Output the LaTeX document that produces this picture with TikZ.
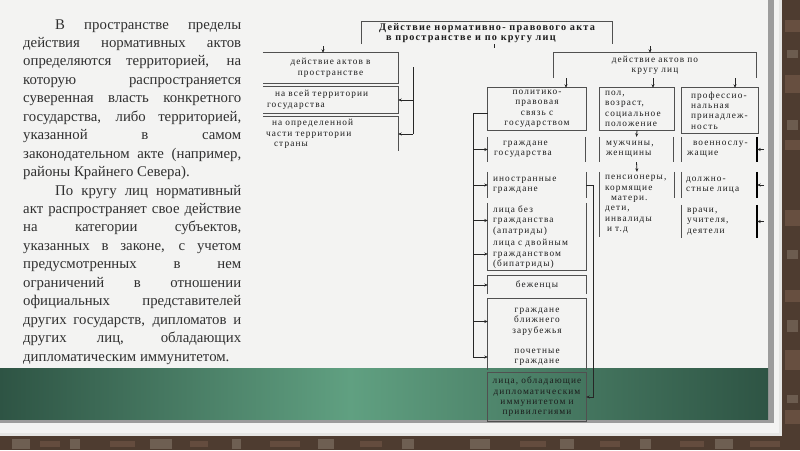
\documentclass[tikz,border=0pt]{standalone}
\usepackage{fontspec}
\setmainfont{Liberation Serif}
\newfontfamily\dfont[LetterSpace=12]{Liberation Serif}
\usetikzlibrary{arrows.meta,calc}
\definecolor{paper}{HTML}{F3F3F2}
\definecolor{paperedge}{HTML}{E6E6E4}
\definecolor{brick}{HTML}{4E3C30}
\definecolor{brickB}{HTML}{8A7C6E}
\definecolor{brickC}{HTML}{6E5444}
\definecolor{gdark}{HTML}{2E5444}
\definecolor{glight}{HTML}{60A081}
\definecolor{stripe}{HTML}{9C9C9C}
\definecolor{ln}{HTML}{505050}
\definecolor{txt}{HTML}{1C1C1C}
\definecolor{ptxt}{HTML}{303030}
\begin{document}
\begin{tikzpicture}[x=1pt,y=-1pt,
  bx/.style={inner ysep=0pt,inner xsep=3pt,text=txt,font=\dfont\fontsize{9.3}{10.4}\selectfont},
  ttl/.style={inner ysep=0pt,inner xsep=0pt,text=txt,font=\dfont\bfseries\fontsize{10.2}{10.6}\selectfont},
  bline/.style={draw=ln,line width=0.7pt},
  heavy/.style={draw=black,line width=1.5pt},
  conn/.style={draw=black!85,line width=0.9pt},
  arr/.style={draw=black!85,line width=0.8pt,-{Stealth[length=3.5pt,width=3pt]}}]
\useasboundingbox (0,0) rectangle (800,450);
% background
\fill[brick] (0,0) rectangle (800,450);
\foreach \x/\w in {12/18,70/10,150/22,232/9,318/16,402/12,470/20,560/14,640/11,715/18}{
  \fill[brickB,opacity=0.55] (\x,439) rectangle (\x+\w,449);
}
\foreach \x/\w in {40/20,110/25,190/18,270/30,360/22,520/26,600/20,680/24,750/30}{
  \fill[brickC,opacity=0.7] (\x,441) rectangle (\x+\w,447);
}
\foreach \y/\h in {20/12,75/18,140/10,210/16,290/12,350/20,410/14}{
  \fill[brickC,opacity=0.8] (785,\y) rectangle (800,\y+\h);
}
\foreach \y/\h in {50/8,120/10,250/9,320/12,395/8}{
  \fill[brickB,opacity=0.5] (787,\y) rectangle (798,\y+\h);
}
\fill[paperedge] (0,0) rectangle (782,436);
\fill[paper] (0,0) rectangle (779,433);
\fill[stripe] (768,0) rectangle (774,423);
\fill[stripe] (0,419) rectangle (774,423);
\shade[left color=gdark,right color=glight] (0,368) rectangle (350,419);
\shade[left color=glight,right color=gdark] (350,368) rectangle (768,419);

% left paragraph text
\node[anchor=base west,inner sep=0,text=ptxt] (para) at (23,29) {\parbox[t]{218pt}{\fontsize{14.8}{18.45}\selectfont\parindent=0pt\parskip=0pt
\makebox[\linewidth][s]{\hspace*{32pt}В пространстве пределы}\par
\makebox[\linewidth][s]{действия нормативных актов}\par
\makebox[\linewidth][s]{определяются территорией, на}\par
\makebox[\linewidth][s]{которую распространяется}\par
\makebox[\linewidth][s]{суверенная власть конкретного}\par
\makebox[\linewidth][s]{государства, либо территорией,}\par
\makebox[\linewidth][s]{указанной в самом}\par
\makebox[\linewidth][s]{законодательном акте (например,}\par
районы Крайнего Севера).\par
\makebox[\linewidth][s]{\hspace*{32pt}По кругу лиц нормативный}\par
\makebox[\linewidth][s]{акт распространяет свое действие}\par
\makebox[\linewidth][s]{на категории субъектов,}\par
\makebox[\linewidth][s]{указанных в законе, с учетом}\par
\makebox[\linewidth][s]{предусмотренных в нем}\par
\makebox[\linewidth][s]{ограничений в отношении}\par
\makebox[\linewidth][s]{официальных представителей}\par
\makebox[\linewidth][s]{других государств, дипломатов и}\par
\makebox[\linewidth][s]{других лиц, обладающих}\par
дипломатическим иммунитетом.\par}};

% title
\node[ttl,minimum width=250,minimum height=22,align=left] (title) at (487,33)
  {Действие нормативно- правового акта\\\hspace*{7pt}в пространстве и по кругу лиц};
\draw[bline] (title.south west) -- (title.north west) -- (title.north east) -- (title.south east);

% space branch
\node[bx,minimum width=135,minimum height=30,text width=129,align=center] (spaceBox) at (330.5,68)
  {действие актов в\\пространстве};
\draw[bline] (spaceBox.north west) -- (spaceBox.north east) -- (spaceBox.south east) -- (spaceBox.south west);
\node[bx,minimum height=26,inner xsep=4pt,text width=127,align=left] (wholeBox) at (330.5,100)
  {\hspace*{8pt}на всей территории\\государства};
\draw[bline] (wholeBox.north west) -- (wholeBox.north east) -- (wholeBox.south east) -- (wholeBox.south west);
\node[bx,minimum height=34,inner xsep=3pt,text width=129,align=left] (partBox) at (330.5,134)
  {\hspace*{6pt}на определенной\\части территории\\\hspace*{8pt}страны};
\draw[bline] (partBox.north west) -- (partBox.north east) -- (partBox.south east);

% circle of persons branch
\node[bx,minimum width=202,minimum height=25,text width=196,align=center] (circleBox) at (655,65.5)
  {действие актов по\\кругу лиц};
\draw[bline] (circleBox.south west) -- (circleBox.north west) -- (circleBox.north east) -- (circleBox.south east);

\node[bx,minimum height=42,text width=92,align=center] (boxA) at (537,109)
  {политико-\\правовая\\связь с\\государством};
\draw[bline] (boxA.north west) rectangle (boxA.south east);
\node[bx,minimum height=42,inner xsep=5pt,text width=64,align=left] (boxB) at (637,109)
  {пол,\\возраст,\\социальное\\положение};
\draw[bline] (boxB.north west) rectangle (boxB.south east);
\node[bx,minimum height=45,inner xsep=9pt,text width=58,align=left] (boxC) at (720,110.5)
  {профессио-\\нальная\\принадлеж-\\ность};
\draw[bline] (boxC.north west) rectangle (boxC.south east);

% row items, column A
\node[bx,minimum height=25,inner xsep=6pt,text width=85,align=left] (citizens) at (536.5,149.5)
  {\hspace*{9pt}граждане\\государства};
\node[bx,minimum height=26,inner xsep=5pt,text width=88,align=left] (foreign) at (537,185)
  {иностранные\\граждане};
\node[bx,minimum height=35,inner xsep=5pt,text width=88,align=left] (apatr) at (537,220.5)
  {лица без\\гражданства\\(апатриды)};
\node[bx,minimum height=32,inner xsep=5pt,text width=88,align=left] (bipatr) at (537,254)
  {лица с двойным\\гражданством\\(бипатриды)};
\node[bx,minimum height=18,text width=92,align=center] (refugees) at (537,285)
  {беженцы};
\node[bx,minimum height=45,text width=92,align=center] (nearAbroad) at (537,321.5)
  {граждане\\ближнего\\зарубежья};
\node[bx,minimum height=26,text width=92,align=center] (honorary) at (537,357)
  {почетные\\граждане};
\node[bx,minimum height=48,text width=92,align=center] (diplomats) at (537,397)
  {лица, обладающие\\дипломатическим\\иммунитетом и\\привилегиями};

\foreach \n in {citizens,foreign,apatr,honorary}{
  \draw[bline] (\n.north west) -- (\n.south west);
  \draw[bline] (\n.north east) -- (\n.south east);
}
\draw[bline] (bipatr.north west) -- (bipatr.south west) -- (bipatr.south east) -- (bipatr.north east);
\draw[bline] (refugees.south west) -- (refugees.north west) -- (refugees.north east) -- (refugees.south east);
\draw[bline] (nearAbroad.south west) -- (nearAbroad.north west) -- (nearAbroad.north east) -- (nearAbroad.south east);
\draw[bline] (diplomats.north west) rectangle (diplomats.south east);

% column B
\node[bx,minimum height=25,inner xsep=6pt,text width=61,align=left] (mf) at (636.5,149.5)
  {мужчины,\\женщины};
\node[bx,minimum height=65,inner xsep=5pt,text width=64,align=left] (pens) at (637,204.5)
  {пенсионеры,\\кормящие\\\hspace*{6pt}матери.\\дети,\\инвалиды\\\hspace*{2pt}и т.д};
\draw[bline] (mf.north west) -- (mf.south west);
\draw[bline] (mf.north east) -- (mf.south east);
\draw[bline] (pens.north west) -- (pens.south west);
\draw[bline] (pens.north east) -- ($(pens.north east)+(0,26)$);

% column C
\node[bx,minimum height=25,inner xsep=5pt,text width=65,align=left] (military) at (719.5,149.5)
  {\hspace*{6pt}военнослу-\\жащие};
\node[bx,minimum height=26,inner xsep=4pt,text width=67,align=left] (duty) at (719.5,185)
  {должно-\\стные лица};
\node[bx,minimum height=33,inner xsep=5pt,text width=65,align=left] (teachers) at (719.5,221.5)
  {врачи,\\учителя,\\деятели};
\foreach \n in {military,duty,teachers}{
  \draw[bline] (\n.north west) -- (\n.south west);
  \draw[heavy] (\n.north east) -- (\n.south east);
}

% connectors: title stubs
\coordinate (tl) at (323,46);
\draw[arr] (tl) -- (tl |- spaceBox.north);
\coordinate (tr) at (650,46);
\draw[arr] (tr) -- (tr |- circleBox.north);
\coordinate (tm) at (494,48);
\draw[conn,line width=0.6pt] (title.south -| tm) -- (tm);

% space branch bracket
\coordinate (sTop) at (413,67);
\draw[conn] (sTop) -- (sTop |- partBox.east);
\draw[arr] (sTop |- wholeBox.east) -- (wholeBox.east);
\draw[arr] (sTop |- partBox.east) -- (partBox.east);

% circle box to three boxes
\coordinate (aA) at (566,78);
\coordinate (aB) at (653,78);
\coordinate (aC) at (735,78);
\draw[arr] (aA) -- (aA |- boxA.north);
\draw[arr] (aB) -- (aB |- boxB.north);
\draw[arr] (aC) -- (aC |- boxC.north);

% column A trunk
\coordinate (trunkTop) at (473,113);
\draw[conn] (boxA.west |- trunkTop) -- (trunkTop) -- (trunkTop |- honorary.west);
\foreach \n in {citizens,foreign,apatr,bipatr,refugees,nearAbroad,honorary}{
  \draw[arr] (trunkTop |- \n.west) -- (\n.west);
}
% foreign -> diplomats
\draw[conn,-{Stealth[length=3.5pt,width=3pt]}] (foreign.east) -- ++(7,0) |- (diplomats.east);

% column B arrows
\draw[arr] (boxB.south) -- (mf.north);
\draw[arr] (mf.south) -- (pens.north);

% column C side arrows
\foreach \n in {military,duty,teachers}{
  \coordinate (\n-r) at ($(\n.east)+(7,0)$);
  \draw[arr] (\n-r) -- (\n.east);
}
\end{tikzpicture}
\end{document}
